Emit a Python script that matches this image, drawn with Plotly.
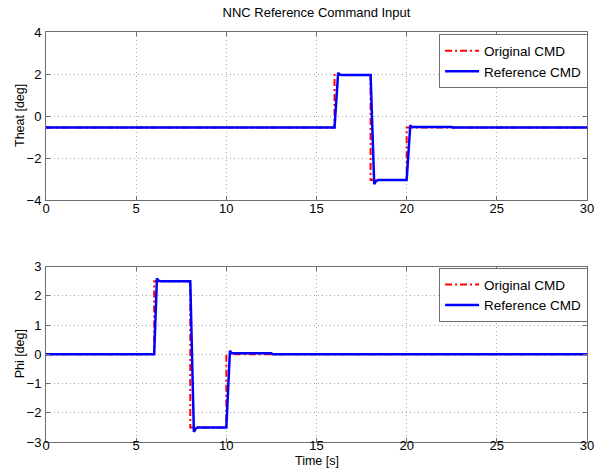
import plotly.graph_objects as go

# Theat channel: original step command and shaped reference command
theat_orig_t = [0, 16, 16, 18, 18, 20, 20, 30]
theat_orig_v = [-0.55, -0.55, 1.95, 1.95, -3.05, -3.05, -0.55, -0.55]
theat_ref_t = [0, 16.0, 16.2, 16.3, 16.4, 18.0, 18.2, 18.3, 18.4, 20.0, 20.2, 20.3, 22.5, 22.55, 30]
theat_ref_v = [-0.55, -0.55, 2.05, 1.97, 1.95, 1.95, -3.25, -3.1, -3.05, -3.05, -0.45, -0.52, -0.52, -0.55, -0.55]

# Phi channel
phi_orig_t = [0, 6, 6, 8, 8, 10, 10, 30]
phi_orig_v = [0, 0, 2.5, 2.5, -2.5, -2.5, 0, 0]
phi_ref_t = [0, 6.0, 6.15, 6.25, 6.35, 8.0, 8.2, 8.3, 8.4, 10.0, 10.2, 10.3, 12.5, 12.55, 30]
phi_ref_v = [0, 0, 2.6, 2.52, 2.5, 2.5, -2.65, -2.55, -2.5, -2.5, 0.12, 0.04, 0.04, 0, 0]

x_ticks = [0, 5, 10, 15, 20, 25, 30]
theat_ticks = [-4, -2, 0, 2, 4]
phi_ticks = [-3, -2, -1, 0, 1, 2, 3]

FONT = "Liberation Sans, Arial, sans-serif"
AXIS_COLOR = "#6e6e6e"
GRID_COLOR = "#a8a8a8"
RED = "rgb(255,0,0)"
BLUE = "rgb(0,0,255)"

# plot-area geometry (pixels) used to place the axis titles
W, H = 601, 468
ML, MR, MT, MB = 46, 14, 32, 26
PW, PH = W - ML - MR, H - MT - MB
TOP_DOMAIN = [(H - MB - 200) / PH, 1.0]
BOT_DOMAIN = [0.0, (H - MB - 266.7) / PH]

fig = go.Figure()

fig.add_trace(go.Scatter(x=theat_orig_t, y=theat_orig_v, mode="lines", name="Original CMD",
                         line=dict(color=RED, width=2, dash="7px,3px,2px,3px"),
                         xaxis="x", yaxis="y", legend="legend"))
fig.add_trace(go.Scatter(x=theat_ref_t, y=theat_ref_v, mode="lines", name="Reference CMD",
                         line=dict(color=BLUE, width=2.5),
                         xaxis="x", yaxis="y", legend="legend"))
fig.add_trace(go.Scatter(x=phi_orig_t, y=phi_orig_v, mode="lines", name="Original CMD",
                         line=dict(color=RED, width=2, dash="7px,3px,2px,3px"),
                         xaxis="x2", yaxis="y2", legend="legend2"))
fig.add_trace(go.Scatter(x=phi_ref_t, y=phi_ref_v, mode="lines", name="Reference CMD",
                         line=dict(color=BLUE, width=2.5),
                         xaxis="x2", yaxis="y2", legend="legend2"))

axis_common = dict(
    showline=True, linecolor=AXIS_COLOR, linewidth=1, mirror="ticks",
    ticks="inside", ticklen=4, tickcolor=AXIS_COLOR,
    showgrid=True, gridcolor=GRID_COLOR, griddash="1px,3px", gridwidth=1,
    zeroline=False, automargin=False,
    tickfont=dict(family=FONT, size=13, color="black"),
)

legend_common = dict(
    bgcolor="white", bordercolor=AXIS_COLOR, borderwidth=1,
    font=dict(family=FONT, size=13.5, color="black"),
    xanchor="right", x=1.002, yanchor="top",
    tracegroupgap=0, itemwidth=34,
)

title_font = dict(family=FONT, size=12.5, color="black")
axis_titles = [
    dict(text="Theat [deg]", x=(20 - ML) / PW, y=sum(TOP_DOMAIN) / 2, textangle=-90),
    dict(text="Phi [deg]", x=(20 - ML) / PW, y=sum(BOT_DOMAIN) / 2, textangle=-90),
    dict(text="Time [s]", x=0.5, y=(PH + MT - 461) / PH, textangle=0),
]

fig.update_layout(
    width=W, height=H,
    margin=dict(l=ML, r=MR, t=MT, b=MB),
    paper_bgcolor="white", plot_bgcolor="white",
    font=dict(family=FONT, size=12.5, color="black"),
    title=dict(text="NNC Reference Command Input", x=0.5, xref="paper",
               y=1 - 12 / H, yanchor="middle",
               font=dict(family=FONT, size=13, color="black")),
    xaxis=dict(domain=[0, 1], range=[0, 30], tickvals=x_ticks, anchor="y",
               ticklabelstandoff=-4, **axis_common),
    yaxis=dict(domain=TOP_DOMAIN, range=[-4, 4], tickvals=theat_ticks, anchor="x",
               ticklabelstandoff=1, **axis_common),
    xaxis2=dict(domain=[0, 1], range=[0, 30], tickvals=x_ticks, anchor="y2",
                ticklabelstandoff=-9, **axis_common),
    yaxis2=dict(domain=BOT_DOMAIN, range=[-3, 3], tickvals=phi_ticks, anchor="x2",
                ticklabelstandoff=1, **axis_common),
    legend=dict(y=0.994, **legend_common),
    legend2=dict(y=0.424, **legend_common),
    annotations=[
        dict(text=a["text"], x=a["x"], y=a["y"], xref="paper", yref="paper",
             xanchor="center", yanchor="middle", textangle=a["textangle"],
             showarrow=False, font=title_font, borderpad=0)
        for a in axis_titles
    ],
)

fig.write_html("out.html")
